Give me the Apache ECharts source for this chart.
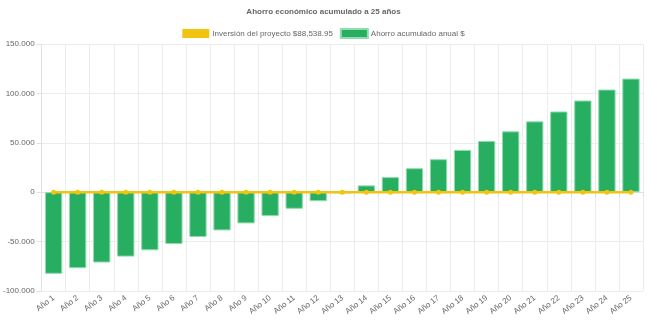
<!DOCTYPE html>
<html><head><meta charset="utf-8">
<script src="https://cdn.jsdelivr.net/npm/echarts@6/dist/echarts.min.js"></script>
<style>html,body{margin:0;padding:0;background:#fff}#c{width:647px;height:323px}</style>
</head><body><div id="c"></div>
<script>
const categories = ["Año 1","Año 2","Año 3","Año 4","Año 5","Año 6","Año 7","Año 8","Año 9","Año 10","Año 11","Año 12","Año 13","Año 14","Año 15","Año 16","Año 17","Año 18","Año 19","Año 20","Año 21","Año 22","Año 23","Año 24","Año 25"];
const inversion = [0,0,0,0,0,0,0,0,0,0,0,0,0,0,0,0,0,0,0,0,0,0,0,0,0];
const ahorro = [-82600,-76900,-71200,-65200,-58800,-52400,-45300,-38700,-31600,-24200,-16800,-9100,-1000,6900,15300,24300,33400,42800,51900,61600,71700,81700,92800,103900,115000];
const yTicks = {min:-100000, max:150000, interval:50000};

const fmt = v => {
  const s = Math.abs(v).toString().replace(/\B(?=(\d{3})+(?!\d))/g, '.');
  return (v < 0 ? '-' : '') + s;
};
const font = 'Liberation Sans, Arial, sans-serif';
const chart = echarts.init(document.getElementById('c'), null, {renderer:'canvas'});
chart.setOption({
  animation:false,
  title:{text:'Ahorro económico acumulado a 25 años', left:'center', top:3,
    textStyle:{fontFamily:font, fontSize:8, fontWeight:'bold', color:'#666'}},
  legend:{top:23, left:'center', itemWidth:27, itemHeight:9, itemGap:7,
    textStyle:{fontFamily:font, fontSize:8, color:'#666', padding:[0,0,0,-2]},
    data:[{name:'Inversión del proyecto $88,538.95', icon:'rect'},{name:'Ahorro acumulado anual $', icon:'rect'}]},
  grid:{left:41, right:4, top:44, bottom:32, containLabel:false},
  xAxis:{type:'category', data:categories, boundaryGap:true,
    axisLine:{show:true, lineStyle:{color:'#e0e0e0'}},
    axisTick:{show:true, alignWithLabel:false, length:5, lineStyle:{color:'#e0e0e0'}},
    splitLine:{show:true, lineStyle:{color:'#ececec'}},
    axisLabel:{rotate:38, interval:0, fontFamily:font, fontSize:8, color:'#666', margin:6}},
  yAxis:{type:'value', min:yTicks.min, max:yTicks.max, interval:yTicks.interval,
    axisLine:{show:true, lineStyle:{color:'#e0e0e0'}},
    axisTick:{show:true, length:5, lineStyle:{color:'#e0e0e0'}},
    splitLine:{show:true, lineStyle:{color:'#ececec'}},
    axisLabel:{formatter:fmt, fontFamily:font, fontSize:8, color:'#666', margin:7}},
  series:[
    {name:'Inversión del proyecto $88,538.95', type:'line', data:inversion, z:5,
      itemStyle:{color:'#f1c40f'}, lineStyle:{color:'#f1c40f', width:2.5},
      symbol:'circle', symbolSize:5, showSymbol:true},
    {name:'Ahorro acumulado anual $', type:'bar', data:ahorro, barCategoryGap:'28%', z:2,
      itemStyle:{color:'#27ae60', borderColor:'#8fdcaf', borderWidth:1}}
  ]
});
</script></body></html>
